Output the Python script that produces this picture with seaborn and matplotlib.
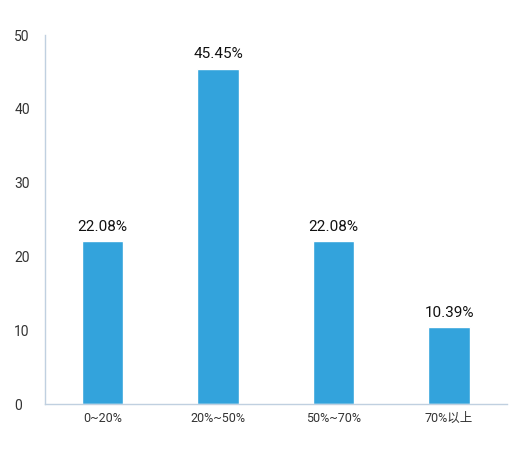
import numpy as np
import pandas as pd
import seaborn as sns
import matplotlib.pyplot as plt

categories = ["0~20%", "20%~50%", "50%~70%", "70%以上"]
values = [22.08, 45.45, 22.08, 10.39]
labels = ["22.08%", "45.45%", "22.08%", "10.39%"]

sns.set_style("white")
plt.rcParams['font.family'] = ['Roboto', 'Noto Sans CJK SC', 'DejaVu Sans']

fig = plt.figure(figsize=(5.22, 4.62), dpi=100)
ax = fig.add_axes([0.086, 0.1255, 0.885, 0.7985])
df = pd.DataFrame({"cat": categories, "val": values})
sns.barplot(data=df, x="cat", y="val", color="#33a3dc", saturation=1, width=0.36, ax=ax)

for i, (v, t) in enumerate(zip(values, labels)):
    ax.text(i, v + 1, t, ha="center", va="bottom", fontsize=11, color="#111111")

axis_col = "#c0d0e0"
ax.set_xlim(-0.5, 3.5)
ax.set_ylim(0, 50)
ax.set_yticks(range(0, 51, 10))
for s in ["top", "right"]:
    ax.spines[s].set_visible(False)
for s in ["left", "bottom"]:
    ax.spines[s].set_color(axis_col)
    ax.spines[s].set_linewidth(1)
ax.set_xlabel("")
ax.set_ylabel("")
ax.set_xticks(np.arange(-0.5, 4, 1), minor=True)
ax.tick_params(axis="x", which="major", length=0, labelsize=9, colors="#333333", pad=6)
ax.tick_params(axis="x", which="minor", length=6, color=axis_col, direction="out")
ax.tick_params(axis="y", length=0, labelsize=10, colors="#333333", pad=22)
for lab in ax.get_yticklabels():
    lab.set_horizontalalignment("left")

fig.savefig("out.png", dpi=100)
